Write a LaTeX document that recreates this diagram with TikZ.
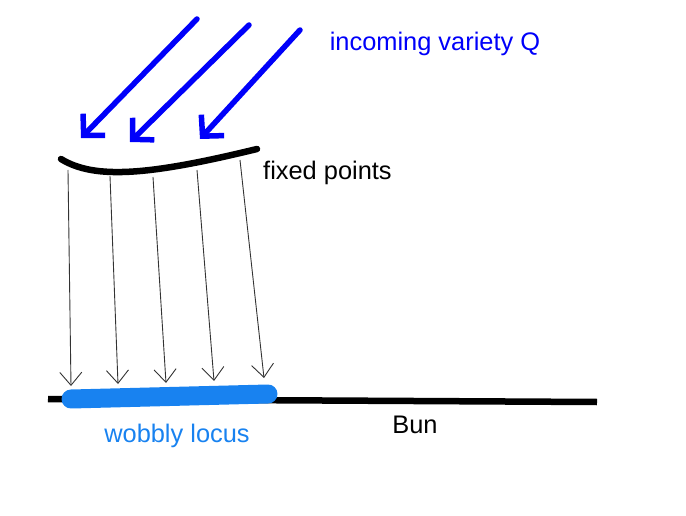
\documentclass[tikz,border=0pt]{standalone}
\usepackage{fontspec}
\setmainfont{Liberation Sans}
\usetikzlibrary{arrows.meta}
\definecolor{rayblue}{RGB}{0,0,250}
\definecolor{locusblue}{RGB}{24,130,240}

\begin{document}
\begin{tikzpicture}[
    x=1pt, y=-1pt,
    every node/.style={font=\fontsize{25.4}{30}\selectfont, inner sep=0pt},
    incoming/.style={rayblue, line width=5.5pt, line cap=round, -{Straight Barb[length=15pt, width=31pt, line width=5.5pt]}},
    drop/.style={black!80, line width=0.9pt, -{Straight Barb[length=13pt, width=22pt, line width=0.9pt]}},
    fixed/.style={black, line width=6.5pt, line cap=round},
    bun/.style={black, line width=6.5pt},
    wobbly/.style={locusblue, line width=19pt, line cap=round}
]
\useasboundingbox (0,0) rectangle (686,516);
% incoming rays
\coordinate (q1) at (197,19);
\coordinate (q2) at (249,25);
\coordinate (q3) at (300,30);
\coordinate (p1) at (81,138);
\coordinate (p2) at (130,142);
\coordinate (p3) at (200,139);
\draw[incoming] (q1) -- (p1);
\draw[incoming] (q2) -- (p2);
\draw[incoming] (q3) -- (p3);
\node[rayblue] (variety) at (435,44) {incoming variety Q};
% fixed points and their images
\coordinate (f1) at (68,170);
\coordinate (f2) at (110,176);
\coordinate (f3) at (153,177);
\coordinate (f4) at (197,170);
\coordinate (f5) at (240,160);
\coordinate (w1) at (71,386);
\coordinate (w2) at (118,384);
\coordinate (w3) at (166,383);
\coordinate (w4) at (214,381);
\coordinate (w5) at (264,378);
\draw[drop] (f1) -- (w1);
\draw[drop] (f2) -- (w2);
\draw[drop] (f3) -- (w3);
\draw[drop] (f4) -- (w4);
\draw[drop] (f5) -- (w5);
\draw[fixed] (61,159) .. controls (95,180) and (150,175) .. (257,149);
\node[anchor=west] (fixed) at (263,173) {fixed points};
% Bun and the wobbly locus
\draw[bun] (48,399) -- (597,402);
\draw[wobbly] (71,399) -- (268,394);
\node[locusblue] (locus) at (177,436) {wobbly locus};
\node (bunlabel) at (415,425) {Bun};
\end{tikzpicture}
\end{document}
